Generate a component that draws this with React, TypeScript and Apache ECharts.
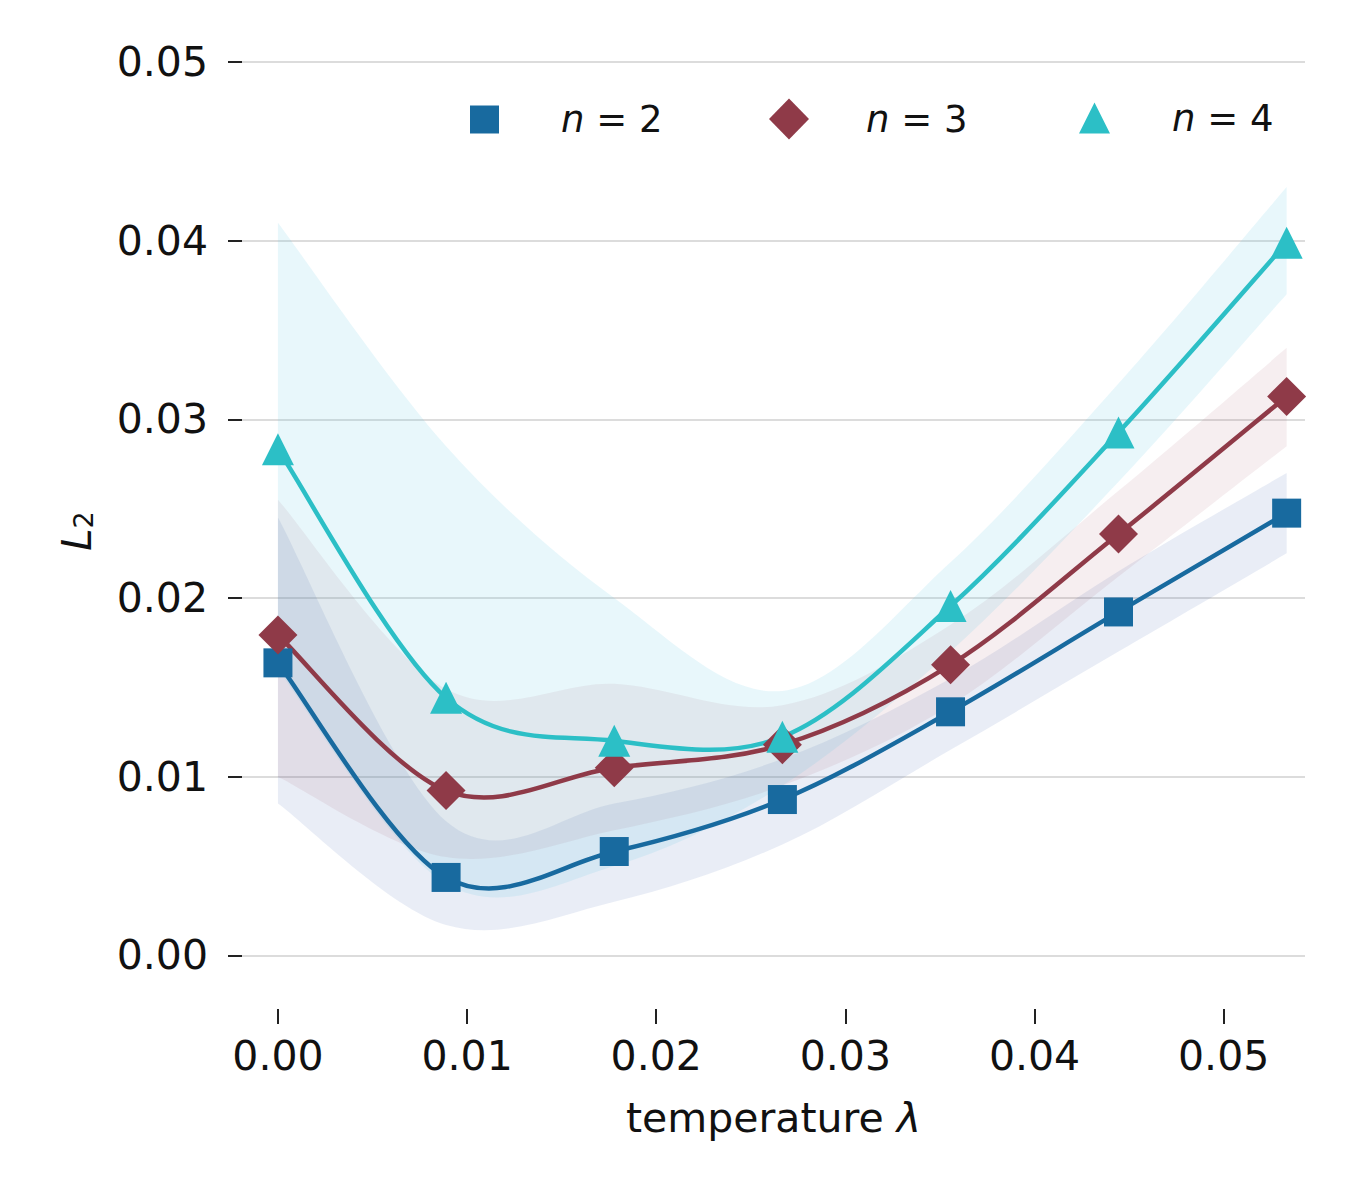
import React, { useEffect, useRef } from "react";
import * as echarts from "echarts";

const lambdas = [0, 0.00889, 0.01778, 0.02667, 0.03556, 0.04444, 0.05333];

const meanN2 = [0.01637, 0.00436, 0.00581, 0.00872, 0.01363, 0.01922, 0.02475];
const upperN2 = [0.0245, 0.0075, 0.0085, 0.011, 0.0155, 0.0215, 0.027];
const lowerN2 = [0.0085, 0.0017, 0.003, 0.0062, 0.0115, 0.017, 0.0225];

const meanN3 = [0.01793, 0.00922, 0.0105, 0.01179, 0.01626, 0.02358, 0.03128];
const upperN3 = [0.0255, 0.0149, 0.0152, 0.014, 0.0185, 0.026, 0.034];
const lowerN3 = [0.01, 0.0055, 0.007, 0.0095, 0.014, 0.0212, 0.0285];

const meanN4 = [0.02832, 0.01441, 0.01201, 0.01223, 0.01955, 0.02927, 0.03989];
const upperN4 = [0.041, 0.0285, 0.02, 0.0148, 0.022, 0.032, 0.043];
const lowerN4 = [0.016, 0.004, 0.005, 0.0095, 0.017, 0.0265, 0.037];

const xTicks = [0, 0.01, 0.02, 0.03, 0.04, 0.05];
const yTicks = [0, 0.01, 0.02, 0.03, 0.04, 0.05];

const FONT = "DejaVu Sans";

const groups = [
  { name: "n = 2", mean: meanN2, upper: upperN2, lower: lowerN2, color: "#186a9f", band: "rgba(40,80,170,0.10)", symbol: "rect", size: 29, legendLeft: 470, legendTop: 101, legendW: 29, legendH: 28, pad: 57 },
  { name: "n = 3", mean: meanN3, upper: upperN3, lower: lowerN3, color: "#8f3a48", band: "rgba(150,60,80,0.085)", symbol: "diamond", size: 39, legendLeft: 769, legendTop: 98.5, legendW: 40, legendH: 41, pad: 52 },
  { name: "n = 4", mean: meanN4, upper: upperN4, lower: lowerN4, color: "#2cbfc6", band: "rgba(90,200,225,0.14)", symbol: "triangle", size: 32, legendLeft: 1079, legendTop: 99.5, legendW: 31, legendH: 31, pad: 57 },
];

// Catmull-Rom spline through pixel points, as SVG path segments
function splineSegs(pts: number[][], start: boolean): string {
  let d = start ? `M${pts[0][0]},${pts[0][1]}` : `L${pts[0][0]},${pts[0][1]}`;
  const n = pts.length;
  for (let i = 0; i < n - 1; i++) {
    const p0 = pts[Math.max(i - 1, 0)];
    const p1 = pts[i];
    const p2 = pts[i + 1];
    const p3 = pts[Math.min(i + 2, n - 1)];
    const c1x = p1[0] + (p2[0] - p0[0]) / 6;
    const c1y = p1[1] + (p2[1] - p0[1]) / 6;
    const c2x = p2[0] - (p3[0] - p1[0]) / 6;
    const c2y = p2[1] - (p3[1] - p1[1]) / 6;
    d += ` C${c1x},${c1y} ${c2x},${c2y} ${p2[0]},${p2[1]}`;
  }
  return d;
}

export default function App() {
  const ref = useRef<HTMLDivElement>(null);
  useEffect(() => {
    if (!ref.current) return;
    const chart = echarts.init(ref.current, null, { renderer: "svg" });
    const series: any[] = [];
    // confidence bands
    groups.forEach((g) => {
      series.push({
        type: "custom",
        coordinateSystem: "cartesian2d",
        silent: true,
        z: 1,
        data: [[lambdas[0], g.mean[0]]],
        renderItem: (params: any, api: any) => {
          const up = lambdas.map((x, i) => api.coord([x, g.upper[i]]));
          const lo = lambdas.map((x, i) => api.coord([x, g.lower[i]])).reverse();
          const d = splineSegs(up, true) + " " + splineSegs(lo, false) + " Z";
          return {
            type: "path",
            shape: { pathData: d },
            style: { fill: g.band, stroke: "none" },
          };
        },
      });
    });
    // interpolated mean curves
    groups.forEach((g) => {
      series.push({
        type: "custom",
        coordinateSystem: "cartesian2d",
        silent: true,
        z: 3,
        data: [[lambdas[0], g.mean[0]]],
        renderItem: (params: any, api: any) => {
          const pts = lambdas.map((x, i) => api.coord([x, g.mean[i]]));
          return {
            type: "path",
            shape: { pathData: splineSegs(pts, true) },
            style: { fill: "none", stroke: g.color, lineWidth: 4.5, lineJoin: "round", lineCap: "round" },
          };
        },
      });
    });
    // markers
    groups.forEach((g) => {
      series.push({
        type: "line",
        name: g.name,
        data: lambdas.map((x, i) => [x, g.mean[i]]),
        symbol: g.symbol,
        symbolSize: g.size,
        showAllSymbol: true,
        lineStyle: { opacity: 0 },
        itemStyle: { color: g.color },
        z: 5,
      });
    });

    chart.setOption({
      animation: false,
      backgroundColor: "#ffffff",
      textStyle: { fontFamily: FONT },
      grid: { left: 242, right: 45, top: 62, bottom: 200, containLabel: false },
      legend: groups.map((g) => ({
        data: [{ name: g.name, icon: g.symbol }],
        left: g.legendLeft,
        top: g.legendTop,
        padding: 0,
        itemWidth: g.legendW,
        itemHeight: g.legendH,
        selectedMode: false,
        formatter: (name: string) => "{i|n}" + name.slice(1),
        textStyle: {
          fontFamily: FONT,
          fontSize: 37,
          color: "#111",
          padding: [0, 0, 0, g.pad],
          rich: { i: { fontStyle: "italic", fontSize: 37, fontFamily: FONT, color: "#111" } },
        },
      })),
      xAxis: {
        type: "value",
        min: -0.0019,
        max: 0.0543,
        offset: 9,
        axisLine: { show: false, onZero: false },
        axisTick: { show: true, length: 15, lineStyle: { color: "#222", width: 2 }, customValues: xTicks },
        axisLabel: {
          customValues: xTicks,
          margin: 26,
          fontSize: 41,
          fontFamily: FONT,
          color: "#111",
          formatter: (v: number) => v.toFixed(2),
        },
        splitLine: { show: false },
        name: "temperature {i|λ}",
        nameLocation: "middle",
        nameGap: 88,
        nameTextStyle: {
          fontSize: 41,
          fontFamily: FONT,
          color: "#111",
          rich: { i: { fontStyle: "italic", fontSize: 41, fontFamily: FONT, color: "#111" } },
        },
      },
      yAxis: {
        type: "value",
        min: -0.0025,
        max: 0.05,
        axisLine: { show: false, onZero: false },
        axisTick: { show: true, length: 14, lineStyle: { color: "#222", width: 2 }, customValues: yTicks },
        axisLabel: {
          customValues: yTicks,
          margin: 34,
          fontSize: 41,
          fontFamily: FONT,
          color: "#111",
          formatter: (v: number) => v.toFixed(2),
        },
        splitLine: { show: true, lineStyle: { color: "#dcdcdc", width: 2 } },
        name: "{i|L}{s|2}",
        nameLocation: "middle",
        nameGap: 145,
        nameRotate: 90,
        nameTextStyle: {
          rich: {
            i: { fontStyle: "italic", fontSize: 40, fontFamily: FONT, color: "#111", verticalAlign: "bottom", lineHeight: 44 },
            s: { fontSize: 27, fontFamily: FONT, color: "#111", verticalAlign: "bottom", lineHeight: 44 },
          },
        },
      },
      series,
    });
    return () => chart.dispose();
  }, []);
  return (
    <div
      ref={ref}
      style={{ position: "absolute", left: 0, top: 0, width: 1350, height: 1200 }}
    />
  );
}
